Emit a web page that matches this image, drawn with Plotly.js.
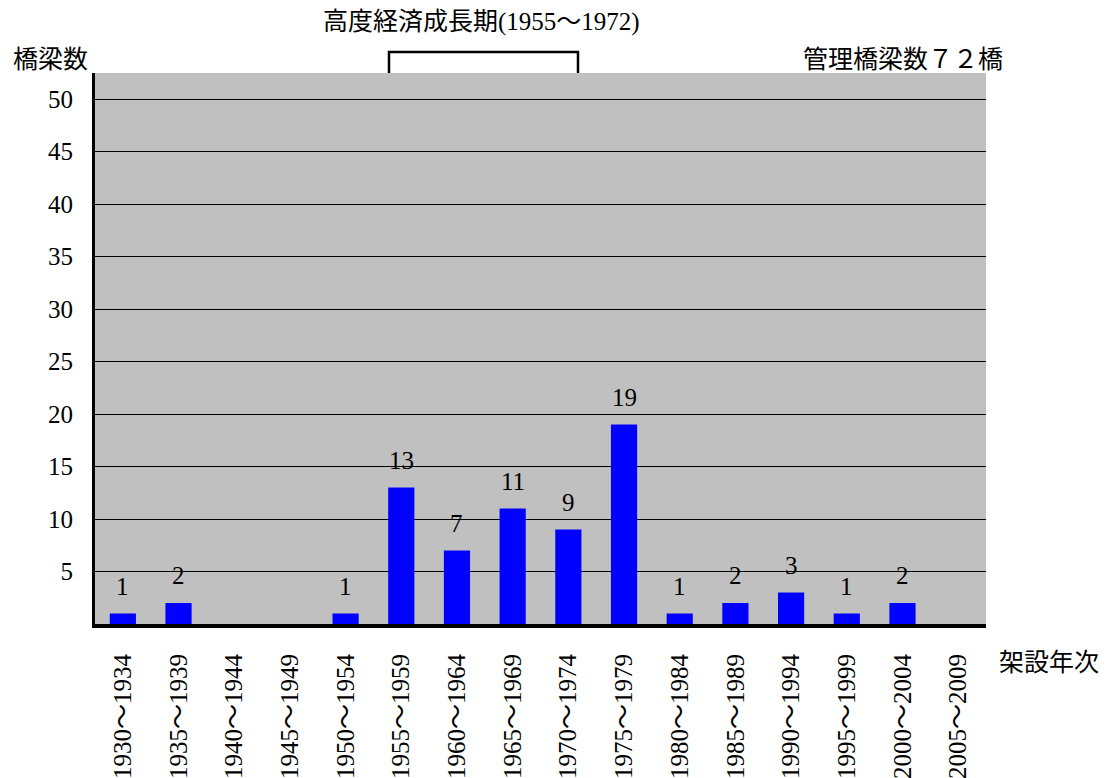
<!DOCTYPE html>
<html>
<head>
<meta charset="utf-8">
<script src="https://cdn.plot.ly/plotly-3.0.1.min.js"></script>
<style>
html,body{margin:0;padding:0;background:#fff;}
#chart{width:1105px;height:778px;}
</style>
</head>
<body>
<div id="chart"></div>
<script>
// ---- data ----
const periods = ["1930～1934","1935～1939","1940～1944","1945～1949","1950～1954","1955～1959","1960～1964","1965～1969","1970～1974","1975～1979","1980～1984","1985～1989","1990～1994","1995～1999","2000～2004","2005～2009"];
const bridgeCounts = [1,2,0,0,1,13,7,11,9,19,1,2,3,1,2,0];
const yTicks = [5,10,15,20,25,30,35,40,45,50];
const titleText = "高度経済成長期(1955～1972)";
const yLabel = "橋梁数";
const xLabel = "架設年次";
const totalText = "管理橋梁数７２橋";

// ---- layout helpers ----
const W = 1105, H = 778;
const M = {l:95, r:119, t:73, b:154};
const PW = W - M.l - M.r, PH = H - M.t - M.b;
const px = x => (x - M.l) / PW;          // pixel x -> paper x
const py = y => 1 - (y - M.t) / PH;      // pixel y -> paper y

const FONT = "Liberation Serif, Noto Sans CJK JP, serif";

const trace = {
  type: 'bar',
  x: periods,
  y: bridgeCounts,
  marker: {color: '#0000ff', line: {width: 0}},
  hoverinfo: 'x+y'
};

const valueAnn = periods.map((p, i) => bridgeCounts[i] > 0 ? {
  x: p, y: bridgeCounts[i], xref: 'x', yref: 'y',
  text: String(bridgeCounts[i]), showarrow: false,
  yanchor: 'bottom', yshift: 12,
  font: {family: FONT, size: 25, color: '#000'}
} : null).filter(a => a);

const textAnn = [
  {text: titleText, x: px(481), y: py(22), xref: 'paper', yref: 'paper', xanchor: 'center', yanchor: 'middle', showarrow: false, font: {family: FONT, size: 25, color: '#000'}},
  {text: yLabel, x: px(50), y: py(60), xref: 'paper', yref: 'paper', xanchor: 'center', yanchor: 'middle', showarrow: false, font: {family: FONT, size: 25, color: '#000'}},
  {text: totalText, x: px(903), y: py(60), xref: 'paper', yref: 'paper', xanchor: 'center', yanchor: 'middle', showarrow: false, font: {family: FONT, size: 25, color: '#000'}},
  {text: xLabel, x: px(1049), y: py(662), xref: 'paper', yref: 'paper', xanchor: 'center', yanchor: 'middle', showarrow: false, font: {family: FONT, size: 25, color: '#000'}}
];

const layout = {
  width: W, height: H,
  margin: M,
  paper_bgcolor: '#ffffff',
  plot_bgcolor: '#c0c0c0',
  showlegend: false,
  bargap: 0.53,
  font: {family: FONT, size: 24, color: '#000'},
  xaxis: {
    type: 'category',
    tickangle: -90,
    showgrid: false,
    showline: true, linecolor: '#000', linewidth: 4,
    ticks: '',
    ticklabelstandoff: 16,
    tickfont: {family: FONT, size: 25, color: '#000'},
    fixedrange: true
  },
  yaxis: {
    range: [0, 52.5],
    tickvals: yTicks,
    showgrid: true, gridcolor: '#000', gridwidth: 1,
    zeroline: false,
    showline: true, linecolor: '#000', linewidth: 3,
    ticks: '',
    ticklabelstandoff: 14,
    tickfont: {family: FONT, size: 25, color: '#000'},
    fixedrange: true
  },
  shapes: [{
    type: 'path', xref: 'paper', yref: 'paper',
    path: `M ${px(389)} ${py(73)} L ${px(389)} ${py(52)} L ${px(578)} ${py(52)} L ${px(578)} ${py(73)}`,
    line: {color: '#000', width: 2.5}
  }],
  annotations: valueAnn.concat(textAnn)
};

Plotly.newPlot('chart', [trace], layout, {displayModeBar: false, staticPlot: true});
</script>
</body>
</html>
